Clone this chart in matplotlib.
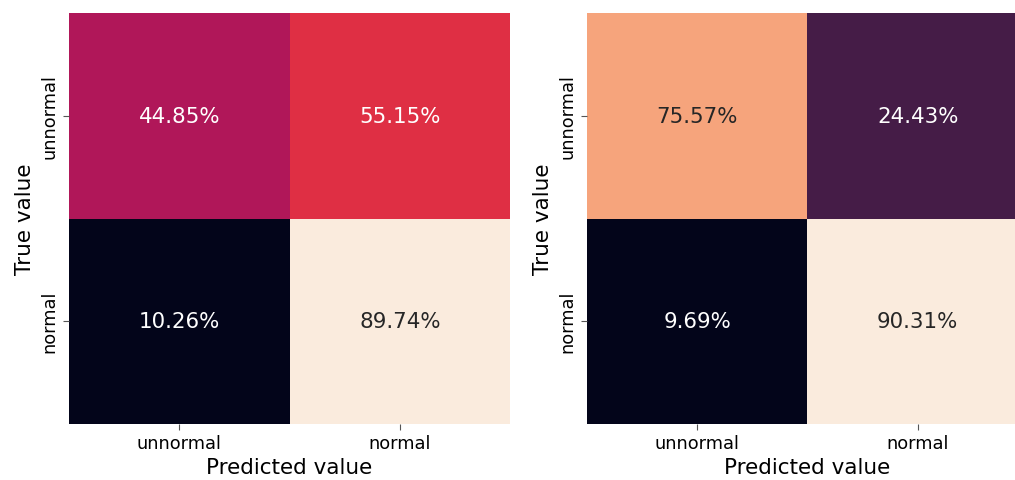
import numpy as np
import matplotlib.pyplot as plt
import seaborn as sns

# confusion matrices in percent, rows = true, cols = predicted
class_names = ['unnormal', 'normal']
cm_left = np.array([[44.85, 55.15],
                    [10.26, 89.74]])
cm_right = np.array([[75.57, 24.43],
                     [9.69, 90.31]])

fig = plt.figure(figsize=(10.15, 4.81), dpi=100)
ax1 = fig.add_axes([0.068, 0.1164, 0.4345, 0.8545])
ax2 = fig.add_axes([0.5783, 0.1164, 0.4345, 0.8545])

def Plot_CM(ax, cm):
    labels = np.array([['{:.2f}%'.format(v) for v in row] for row in cm])
    sns.heatmap(cm, ax=ax, annot=labels, fmt='', cmap='rocket', cbar=False,
                xticklabels=class_names, yticklabels=class_names,
                annot_kws={'fontsize': 15.4})
    ax.set_xlabel('Predicted value', fontsize=15.5, labelpad=3)
    ax.set_ylabel('True value', fontsize=15.5)
    ax.tick_params(axis='both', labelsize=12.8, length=4, color='#555555')
    plt.setp(ax.get_yticklabels(), rotation=90, va='center')
    plt.setp(ax.get_xticklabels(), rotation=0)

Plot_CM(ax1, cm_left)
Plot_CM(ax2, cm_right)

fig.savefig('out.png', dpi=100)
